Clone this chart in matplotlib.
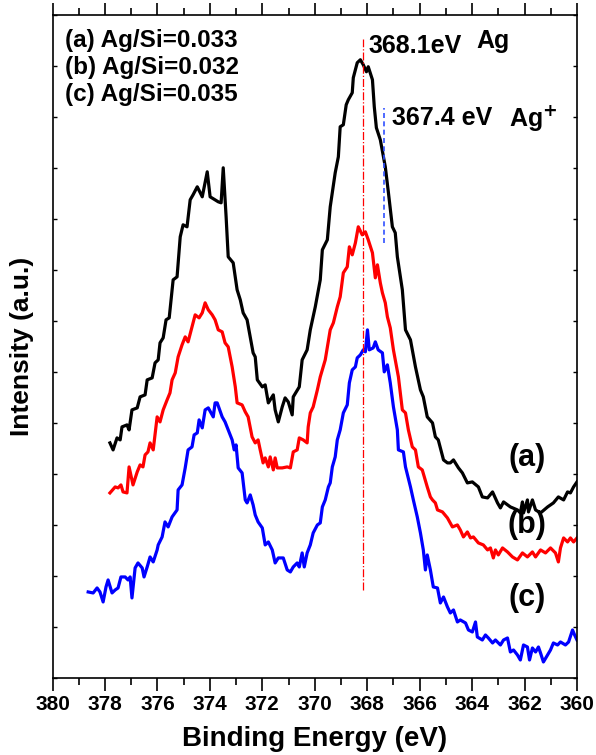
import matplotlib
matplotlib.use("Agg")
import matplotlib.pyplot as plt
from matplotlib.ticker import MultipleLocator

plt.rcParams['font.family'] = ['Liberation Sans', 'DejaVu Sans']
plt.rcParams['font.weight'] = 'bold'

# (a) Ag/Si=0.033 -- binding energy (eV) and intensity (a.u.)
energy_a = [377.81, 377.69, 377.54, 377.42, 377.35, 377.16, 377.08, 376.97, 376.77, 376.66,
            376.47, 376.39, 376.20, 376.09, 375.97, 375.90, 375.78, 375.67, 375.55, 375.40,
            375.25, 375.13, 375.02, 374.87, 374.75, 374.64, 374.48, 374.29, 374.10, 373.99,
            373.80, 373.68, 373.57, 373.49, 373.38, 373.30, 373.11, 372.96, 372.84, 372.73,
            372.58, 372.46, 372.35, 372.27, 372.19, 372.00, 371.89, 371.77, 371.58, 371.51,
            371.39, 371.24, 371.13, 371.01, 370.86, 370.82, 370.59, 370.48, 370.29, 370.17,
            369.98, 369.79, 369.71, 369.52, 369.41, 369.22, 369.10, 369.03, 368.91, 368.80,
            368.72, 368.57, 368.53, 368.38, 368.26, 368.15, 368.03, 367.96, 367.80, 367.73,
            367.65, 367.50, 367.38, 367.31, 367.19, 367.04, 366.93, 366.85, 366.66, 366.54,
            366.35, 366.16, 365.97, 365.86, 365.71, 365.51, 365.40, 365.29, 365.09, 364.94,
            364.83, 364.71, 364.52, 364.37, 364.18, 363.99, 363.76, 363.61, 363.41, 363.22,
            363.03, 362.92, 362.80, 362.54, 362.27, 362.16, 362.08, 362.04, 361.89, 361.85,
            361.70, 361.58, 361.39, 361.12, 360.90, 360.71, 360.51, 360.36, 360.25, 360.13,
            360.00]
counts_a = [235, 228, 240, 238, 251, 253, 248, 268, 270, 281,
            283, 298, 300, 315, 318, 335, 340, 358, 360, 398,
            401, 441, 453, 451, 478, 483, 491, 481, 506, 481,
            478, 476, 475, 510, 461, 421, 415, 388, 378, 365,
            358, 341, 325, 321, 298, 291, 293, 275, 283, 268,
            256, 271, 280, 276, 263, 281, 291, 318, 328, 348,
            371, 398, 428, 438, 471, 505, 521, 551, 553, 573,
            578, 585, 600, 615, 618, 613, 606, 611, 598, 571,
            550, 538, 521, 511, 485, 451, 445, 421, 388, 348,
            338, 311, 288, 281, 261, 255, 241, 238, 218, 215,
            215, 218, 210, 205, 195, 196, 191, 181, 180, 186,
            175, 170, 176, 171, 168, 165, 176, 165, 178, 166,
            178, 168, 165, 171, 175, 181, 178, 186, 185, 191,
            196]

# (b) Ag/Si=0.032
energy_b = [377.81, 377.61, 377.50, 377.39, 377.31, 377.16, 377.08, 376.93, 376.77, 376.66,
            376.55, 376.47, 376.36, 376.28, 376.16, 376.01, 375.90, 375.78, 375.63, 375.52,
            375.44, 375.32, 375.21, 375.06, 374.94, 374.83, 374.68, 374.56, 374.41, 374.29,
            374.18, 374.06, 373.91, 373.80, 373.68, 373.53, 373.42, 373.30, 373.15, 373.03,
            372.96, 372.77, 372.65, 372.54, 372.39, 372.27, 372.16, 372.08, 371.97, 371.89,
            371.77, 371.70, 371.58, 371.51, 371.43, 371.24, 371.05, 370.93, 370.82, 370.67,
            370.59, 370.44, 370.29, 370.25, 370.17, 370.06, 369.90, 369.79, 369.60, 369.41,
            369.29, 369.14, 369.03, 368.91, 368.76, 368.68, 368.57, 368.45, 368.34, 368.19,
            368.07, 367.96, 367.80, 367.69, 367.61, 367.50, 367.42, 367.31, 367.23, 367.12,
            367.00, 366.81, 366.66, 366.54, 366.43, 366.28, 366.16, 366.05, 365.90, 365.71,
            365.59, 365.51, 365.40, 365.32, 365.13, 364.94, 364.75, 364.56, 364.45, 364.33,
            364.18, 364.06, 363.95, 363.76, 363.57, 363.41, 363.30, 363.19, 363.11, 363.00,
            362.84, 362.65, 362.46, 362.27, 362.08, 361.89, 361.70, 361.58, 361.39, 361.20,
            361.01, 360.82, 360.71, 360.63, 360.51, 360.36, 360.25, 360.13, 360.00]
counts_b = [185, 191, 190, 193, 186, 185, 211, 193, 206, 213,
            211, 223, 226, 235, 228, 261, 256, 268, 278, 285,
            298, 305, 321, 333, 341, 336, 351, 363, 360, 365,
            375, 368, 363, 358, 348, 346, 335, 331, 311, 291,
            275, 273, 266, 261, 241, 235, 238, 228, 215, 220,
            211, 221, 208, 220, 210, 210, 211, 210, 226, 228,
            240, 238, 235, 251, 265, 271, 288, 301, 318, 348,
            355, 371, 381, 405, 411, 431, 423, 435, 451, 443,
            446, 438, 425, 400, 413, 395, 385, 375, 361, 350,
            328, 301, 268, 265, 248, 231, 228, 211, 208, 191,
            181, 178, 175, 168, 166, 160, 151, 153, 148, 141,
            146, 140, 141, 135, 133, 128, 130, 120, 128, 123,
            130, 126, 121, 118, 125, 121, 126, 121, 128, 125,
            130, 125, 116, 130, 140, 136, 140, 136, 140]

# (c) Ag/Si=0.035
energy_c = [378.64, 378.45, 378.30, 378.19, 378.07, 377.96, 377.88, 377.73, 377.61, 377.50,
            377.39, 377.23, 377.12, 377.04, 376.97, 376.85, 376.74, 376.58, 376.51, 376.39,
            376.28, 376.16, 376.01, 375.97, 375.82, 375.71, 375.59, 375.44, 375.25, 375.21,
            375.06, 374.94, 374.83, 374.68, 374.60, 374.48, 374.41, 374.29, 374.18, 374.06,
            373.87, 373.80, 373.72, 373.53, 373.42, 373.30, 373.15, 373.07, 373.00, 372.92,
            372.77, 372.65, 372.58, 372.46, 372.35, 372.27, 372.16, 372.00, 371.89, 371.77,
            371.62, 371.51, 371.39, 371.20, 371.05, 370.93, 370.82, 370.67, 370.59, 370.48,
            370.40, 370.29, 370.17, 370.06, 369.90, 369.79, 369.71, 369.60, 369.48, 369.41,
            369.33, 369.22, 369.14, 369.03, 368.91, 368.76, 368.68, 368.57, 368.45, 368.38,
            368.26, 368.15, 368.07, 367.99, 367.92, 367.77, 367.69, 367.58, 367.42, 367.35,
            367.23, 367.12, 367.00, 366.85, 366.81, 366.62, 366.54, 366.35, 366.24, 366.09,
            365.97, 365.86, 365.78, 365.71, 365.59, 365.48, 365.32, 365.21, 365.09, 364.94,
            364.83, 364.71, 364.56, 364.45, 364.25, 364.14, 363.99, 363.87, 363.80, 363.61,
            363.49, 363.38, 363.22, 363.11, 362.92, 362.80, 362.65, 362.54, 362.42, 362.27,
            362.16, 362.04, 361.89, 361.81, 361.70, 361.58, 361.47, 361.39, 361.28, 361.12,
            361.01, 360.90, 360.74, 360.63, 360.44, 360.32, 360.17, 360.09, 360.00]
counts_c = [86, 85, 90, 86, 76, 91, 98, 85, 88, 90,
            101, 101, 98, 101, 80, 110, 115, 110, 101, 111,
            121, 116, 128, 133, 141, 156, 151, 161, 168, 188,
            193, 210, 228, 231, 243, 245, 258, 250, 268, 270,
            261, 275, 275, 261, 256, 248, 238, 228, 233, 210,
            205, 178, 175, 183, 173, 163, 156, 150, 133, 136,
            128, 115, 120, 120, 108, 106, 111, 115, 111, 125,
            111, 125, 133, 145, 153, 155, 171, 178, 191, 195,
            211, 221, 238, 248, 265, 273, 295, 308, 311, 320,
            323, 328, 326, 348, 328, 330, 336, 328, 325, 306,
            313, 295, 271, 248, 228, 226, 211, 191, 178, 161,
            145, 128, 108, 123, 108, 91, 90, 75, 81, 71,
            65, 68, 56, 58, 55, 48, 46, 56, 41, 38,
            43, 40, 35, 38, 33, 38, 40, 26, 28, 23,
            18, 33, 31, 18, 30, 26, 31, 25, 16, 23,
            28, 35, 33, 36, 33, 36, 48, 43, 38]

curve_labels = ['(a)', '(b)', '(c)']
label_pos = [(361.9, 220), (361.9, 153), (361.9, 80)]
sample_text = ['(a) Ag/Si=0.033', '(b) Ag/Si=0.032', '(c) Ag/Si=0.035']

ag0_energy = 368.15
ag_plus_energy = 367.35

fig = plt.figure(figsize=(5.96, 7.55), dpi=100)
ax = fig.add_axes([0.0881, 0.102, 0.880, 0.8785])

ax.plot(energy_a, counts_a, color='black', lw=2.3)
ax.plot(energy_b, counts_b, color='red', lw=2.3)
ax.plot(energy_c, counts_c, color='blue', lw=2.3)

# reference lines for metallic Ag and Ag+
ax.plot([ag0_energy, ag0_energy], [88, 639], color='red', lw=0.9, ls='-.')
ax.plot([ag_plus_energy, ag_plus_energy], [435, 570], color='#3050ff', lw=1.2, ls=(0, (3, 2)))

ax.text(367.95, 632, '368.1eV', fontsize=18, ha='left', va='center')
ax.text(363.85, 637, 'Ag', fontsize=18, ha='left', va='center')
ax.text(367.05, 560, '367.4 eV', fontsize=18, ha='left', va='center')
ax.text(362.6, 560, r'Ag$^{\mathbf{+}}$', fontsize=18, ha='left', va='center')

for t, (x, y) in zip(curve_labels, label_pos):
    ax.text(x, y, t, fontsize=22, ha='center', va='center')

ax.text(0.024, 0.978, '\n'.join(sample_text), transform=ax.transAxes, fontsize=17.5,
        ha='left', va='top', linespacing=1.22)

ax.set_xlim(380, 360)
ax.set_ylim(0, 663)
ax.xaxis.set_major_locator(MultipleLocator(2))
ax.xaxis.set_minor_locator(MultipleLocator(1))
ax.yaxis.set_major_locator(MultipleLocator(51))
ax.set_yticklabels([])
ax.tick_params(axis='x', which='major', direction='out', length=9, width=1.2, labelsize=15, pad=3)
ax.tick_params(axis='x', which='minor', direction='out', length=5, width=1.2)
ax.tick_params(axis='x', which='both', top=True)
ax.tick_params(axis='y', which='major', direction='in', length=3, width=1.0, right=True)
for s in ax.spines.values():
    s.set_linewidth(1.2)

ax.set_xlabel('Binding Energy (eV)', fontsize=20, fontweight='bold', labelpad=9)
ax.set_ylabel('Intensity (a.u.)', fontsize=19, fontweight='bold', labelpad=10)

fig.savefig('out.png', dpi=100)
